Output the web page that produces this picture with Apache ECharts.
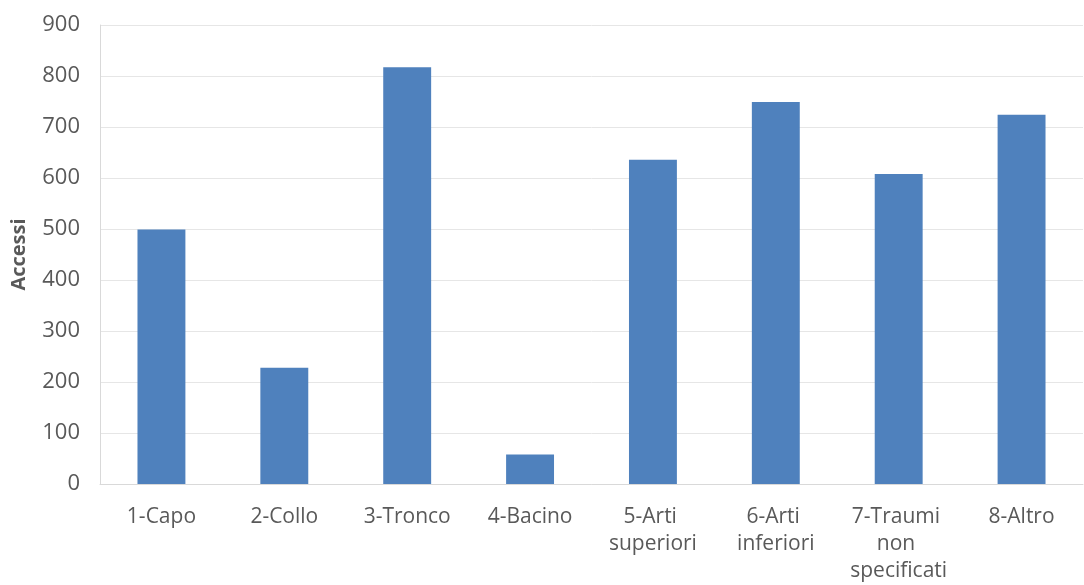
<!DOCTYPE html>
<html>
<head>
<meta charset="utf-8">
<script src="https://cdn.jsdelivr.net/npm/echarts@6/dist/echarts.min.js"></script>
<style>
  html, body { margin: 0; padding: 0; background: #ffffff; }
  #chart { width: 1084px; height: 585px; }
</style>
</head>
<body>
<div id="chart"></div>
<script>
// Accessi per distretto corporeo
const categories = ['1-Capo', '2-Collo', '3-Tronco', '4-Bacino', '5-Arti superiori', '6-Arti inferiori', '7-Traumi non specificati', '8-Altro'];
const accessi = [499, 228, 817, 58, 636, 749, 608, 724];
const yTicks = { min: 0, max: 900, interval: 100 };

const chart = echarts.init(document.getElementById('chart'), null, { renderer: 'canvas' });
const textColor = '#595959';
const fontFamily = '"Open Sans", "Noto Sans", sans-serif';

chart.setOption({
  animation: false,
  grid: { left: 100, right: 1, top: 25, bottom: 101, containLabel: false },
  xAxis: {
    type: 'category',
    data: categories,
    axisLine: { show: true, lineStyle: { color: '#d9d9d9', width: 1 } },
    axisTick: { show: false },
    axisLabel: {
      interval: 0,
      color: textColor,
      fontFamily: fontFamily,
      fontSize: 21,
      margin: 20,
      lineHeight: 27,
      width: 116,
      overflow: 'break'
    }
  },
  yAxis: {
    type: 'value',
    min: yTicks.min,
    max: yTicks.max,
    interval: yTicks.interval,
    name: 'Accessi',
    nameLocation: 'middle',
    nameGap: 71,
    nameTextStyle: { color: textColor, fontFamily: fontFamily, fontSize: 20, fontWeight: 'bold' },
    axisLine: { show: true, lineStyle: { color: '#d9d9d9', width: 1 } },
    axisTick: { show: false },
    axisLabel: { color: textColor, fontFamily: fontFamily, fontSize: 22, margin: 20 },
    splitLine: { lineStyle: { color: '#e6e6e6', width: 1 } }
  },
  series: [{
    type: 'bar',
    data: accessi,
    barWidth: '39%',
    itemStyle: { color: '#4f81bd' }
  }]
});
</script>
</body>
</html>
